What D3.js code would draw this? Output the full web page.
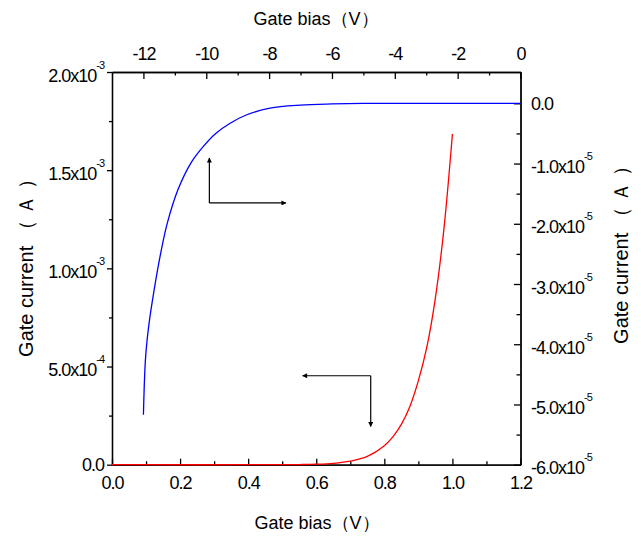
<!DOCTYPE html>
<html>
<head>
<meta charset="utf-8">
<title>Gate current vs gate bias</title>
<script src="https://d3js.org/d3.v7.min.js"></script>
<style>
body {margin:0; background:#fff;}
svg {font-family: "Liberation Sans", Arial, sans-serif;}
.axis path, .axis line {stroke:#000; stroke-width:1.3px;}
.axis text {font-size:18px; letter-spacing:-1px; fill:#000; font-family:"Liberation Sans", Arial, sans-serif;}
.lbl {font-size:18px; letter-spacing:-1px; fill:#000;}
.title {font-size:18px; fill:#000;}
.vtitle {font-size:20px; fill:#000;}
</style>
</head>
<body>
<svg width="641" height="538"></svg>
<script>
// red curve: bottom axis (V) against left axis (A)
var redBias    = [0, 0.5, 0.55, 0.6, 0.65, 0.7, 0.75, 0.8, 0.825, 0.85, 0.875, 0.9, 0.925, 0.95, 0.975, 1.0];
var redCurrent = [0, 0, 0.0008e-3, 0.0025e-3, 0.007e-3, 0.018e-3, 0.042e-3, 0.097e-3, 0.142e-3, 0.205e-3, 0.296e-3, 0.428e-3, 0.60e-3, 0.85e-3, 1.2e-3, 1.684e-3];

// blue curve: top axis (V) against right axis (A)
var blueBias    = [-12.0, -11.93, -11.82, -11.66, -11.47, -11.24, -10.89, -10.5, -10.1, -9.7, -9.24, -8.71, -7.97, -7.0, -6.0, -5.0, -4.0, -2.0, 0];
var blueCurrent = [-5.17e-5, -4.21e-5, -3.65e-5, -3.10e-5, -2.54e-5, -1.99e-5, -1.42e-5, -1.00e-5, -0.72e-5, -0.50e-5, -0.33e-5, -0.19e-5, -0.08e-5, -0.03e-5, -0.01e-5, 0, 0, 0, 0];

var bottomTicks = [0, 0.2, 0.4, 0.6, 0.8, 1.0, 1.2];
var bottomMinor = [0.1, 0.3, 0.5, 0.7, 0.9, 1.1];
var topTicks = [-12, -10, -8, -6, -4, -2, 0];
var topMinor = [-11, -9, -7, -5, -3, -1];
var leftTicks = [0, 5e-4, 1e-3, 1.5e-3, 2e-3];
var leftMinor = [2.5e-4, 7.5e-4, 1.25e-3, 1.75e-3];
var leftLabels = [["0.0", ""], ["5.0x10", "-4"], ["1.0x10", "-3"], ["1.5x10", "-3"], ["2.0x10", "-3"]];
var rightTicks = [0, -1e-5, -2e-5, -3e-5, -4e-5, -5e-5, -6e-5];
var rightMinor = [-0.5e-5, -1.5e-5, -2.5e-5, -3.5e-5, -4.5e-5, -5.5e-5];
var rightLabels = [["0.0", ""], ["-1.0x10", "-5"], ["-2.0x10", "-5"], ["-3.0x10", "-5"], ["-4.0x10", "-5"], ["-5.0x10", "-5"], ["-6.0x10", "-5"]];

// arrows, in bottom/left data units: [x1, y1, x2, y2]
var arrows = [
  [0.286, 1.333e-3, 0.286, 1.562e-3],
  [0.286, 1.333e-3, 0.511, 1.333e-3],
  [0.760, 0.453e-3, 0.560, 0.453e-3],
  [0.760, 0.453e-3, 0.760, 0.194e-3]
];

var plotL = 112, plotR = 520.5, plotT = 72, plotB = 464.7;
var svg = d3.select("svg");

var x = d3.scaleLinear().domain([0, 1.2]).range([plotL, plotR]);
var xTop = d3.scaleLinear().domain([-13, 0]).range([plotL, plotR]);
var y = d3.scaleLinear().domain([0, 2e-3]).range([plotB, plotT]);
var yRight = d3.scaleLinear().domain([-6e-5, 0.52e-5]).range([plotB, plotT]);

// bottom axis
svg.append("g").attr("class", "axis").attr("transform", "translate(0," + plotB + ")")
  .call(d3.axisBottom(x).tickValues(bottomMinor).tickSizeInner(-3.5).tickSizeOuter(0).tickFormat(""));
svg.append("g").attr("class", "axis").attr("transform", "translate(0," + plotB + ")")
  .call(d3.axisBottom(x).tickValues(bottomTicks).tickSizeInner(-6).tickSizeOuter(0).tickPadding(12)
    .tickFormat(function(d) { return d.toFixed(1); }));

// top axis
svg.append("g").attr("class", "axis").attr("transform", "translate(0," + plotT + ")")
  .call(d3.axisTop(xTop).tickValues(topMinor).tickSizeInner(-3.5).tickSizeOuter(0).tickFormat(""));
svg.append("g").attr("class", "axis").attr("transform", "translate(0," + plotT + ")")
  .call(d3.axisTop(xTop).tickValues(topTicks).tickSizeInner(-7).tickSizeOuter(0).tickPadding(12)
    .tickFormat(function(d) { return String(d); }));

// left axis
svg.append("g").attr("class", "axis").attr("transform", "translate(" + plotL + ",0)")
  .call(d3.axisLeft(y).tickValues(leftMinor).tickSizeInner(3).tickSizeOuter(0).tickFormat(""));
svg.append("g").attr("class", "axis").attr("transform", "translate(" + plotL + ",0)")
  .call(d3.axisLeft(y).tickValues(leftTicks).tickSizeInner(5).tickSizeOuter(0).tickFormat(""));

// right axis
svg.append("g").attr("class", "axis").attr("transform", "translate(" + plotR + ",0)")
  .call(d3.axisRight(yRight).tickValues(rightMinor).tickSizeInner(-4).tickSizeOuter(0).tickFormat(""));
svg.append("g").attr("class", "axis").attr("transform", "translate(" + plotR + ",0)")
  .call(d3.axisRight(yRight).tickValues(rightTicks).tickSizeInner(-6.5).tickSizeOuter(0).tickFormat(""));

// exponent labels
function expLabel(g, val, lab, scale, xpos, anchor) {
  var t = g.append("text").attr("class", "lbl").attr("text-anchor", anchor)
    .attr("x", xpos);
  if (lab[1] === "") {
    t.attr("y", scale(val) + 6.5).text(lab[0]);
  } else {
    t.attr("y", scale(val) + 9.5);
    t.append("tspan").text(lab[0]);
    t.append("tspan").attr("dy", -13).style("font-size", "11px").text(lab[1]);
  }
}
var gl = svg.append("g");
leftTicks.forEach(function(v, i) { expLabel(gl, v, leftLabels[i], y, 104, "end"); });
var gr = svg.append("g");
rightTicks.forEach(function(v, i) { expLabel(gr, v, rightLabels[i], yRight, 531, "start"); });

// curves
var redData = redBias.map(function(v, i) { return [v, redCurrent[i]]; });
var blueData = blueBias.map(function(v, i) { return [v, blueCurrent[i]]; });

svg.append("path").datum(redData)
  .attr("fill", "none").attr("stroke", "#ff0000").attr("stroke-width", 1.3)
  .attr("d", d3.line().curve(d3.curveCatmullRom.alpha(0.5))
    .x(function(d) { return x(d[0]); }).y(function(d) { return y(d[1]); }));

svg.append("path").datum(blueData)
  .attr("fill", "none").attr("stroke", "#0000ff").attr("stroke-width", 1.3)
  .attr("d", d3.line().curve(d3.curveCatmullRom.alpha(0.5))
    .x(function(d) { return xTop(d[0]); }).y(function(d) { return yRight(d[1]); }));

// arrows
svg.append("defs").append("marker")
  .attr("id", "head").attr("viewBox", "0 0 10 10").attr("refX", 9).attr("refY", 5)
  .attr("markerWidth", 7).attr("markerHeight", 5).attr("markerUnits", "userSpaceOnUse")
  .attr("orient", "auto")
  .append("path").attr("d", "M0,0 L10,5 L0,10 Z").attr("fill", "#000");

svg.selectAll(".arrow").data(arrows).enter().append("line")
  .attr("class", "arrow")
  .attr("x1", function(d) { return x(d[0]); }).attr("y1", function(d) { return y(d[1]); })
  .attr("x2", function(d) { return x(d[2]); }).attr("y2", function(d) { return y(d[3]); })
  .attr("stroke", "#000").attr("stroke-width", 1.2)
  .attr("marker-end", "url(#head)");

// titles
svg.append("text").attr("class", "title").attr("text-anchor", "middle")
  .attr("x", 317).attr("y", 529).text("Gate bias（V）");
svg.append("text").attr("class", "title").attr("text-anchor", "middle")
  .attr("x", 316).attr("y", 25).text("Gate bias（V）");
svg.append("text").attr("class", "vtitle").attr("text-anchor", "middle")
  .attr("transform", "translate(33,263) rotate(-90)").text("Gate current （ Ａ ）");
svg.append("text").attr("class", "vtitle").attr("text-anchor", "middle")
  .attr("transform", "translate(628,250) rotate(-90)").text("Gate current （ Ａ ）");
</script>
</body>
</html>
